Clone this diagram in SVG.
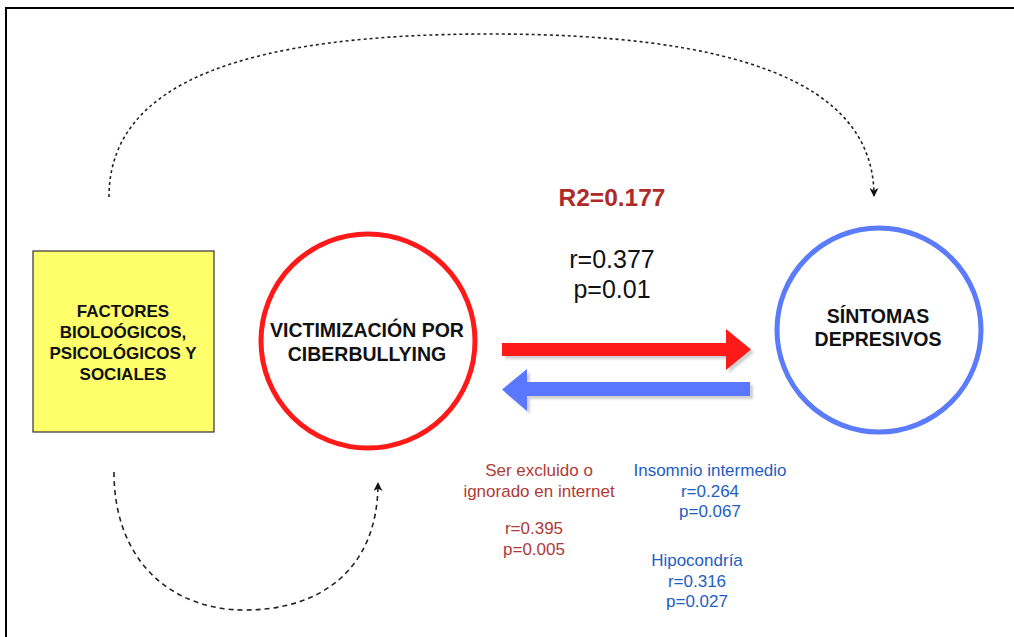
<svg xmlns="http://www.w3.org/2000/svg" width="1014" height="637" viewBox="0 0 1014 637">
  <defs>
    <style>
      .bold { font-family: "Liberation Sans", Arial, sans-serif; font-weight: bold; fill: #111; text-anchor: middle; }
      .reg { font-family: "Liberation Sans", Arial, sans-serif; text-anchor: middle; }
      .red { fill: #b03a36; font-size: 17px; }
      .blue { fill: #1f5ec2; font-size: 17px; }
      .dash { fill: none; stroke: #222; stroke-width: 1.6; }
      .shadow { fill: #999; opacity: 0.45; }
    </style>
    <marker id="ah" viewBox="0 0 10 10" refX="9" refY="5" markerWidth="9" markerHeight="9" markerUnits="userSpaceOnUse" orient="auto">
      <path d="M0,0 L10,5 L0,10 L3,5 Z" fill="#111"/>
    </marker>
    <filter id="sh" x="-10%" y="-30%" width="120%" height="160%">
      <feGaussianBlur stdDeviation="1.2"/>
    </filter>
  </defs>
  <rect x="0" y="0" width="1014" height="637" fill="#fff"/>
  <rect x="6" y="8" width="1030" height="650" fill="none" stroke="#000" stroke-width="2"/>

  <g id="connectors">
    <path class="dash" stroke-dasharray="3,3" d="M109,197 C109,80 250,34 490,34 C730,34 874,80 874,196" marker-end="url(#ah)"/>
    <path class="dash" stroke-dasharray="5,4" d="M114,472 C114,560 170,610 245,610 C320,610 378,570 378,483" marker-end="url(#ah)"/>
    <g id="arrow-red">
      <polygon class="shadow" filter="url(#sh)" transform="translate(3,3)" points="502,343 726,343 726,329 751,349.5 726,370 726,356 502,356"/>
      <polygon points="502,343 726,343 726,329 751,349.5 726,370 726,356 502,356" fill="#ff1a1a"/>
    </g>
    <g id="arrow-blue">
      <polygon class="shadow" filter="url(#sh)" transform="translate(3,3)" points="750,382 527,382 527,369 502,389.5 527,411 527,396 750,396"/>
      <polygon points="750,382 527,382 527,369 502,389.5 527,411 527,396 750,396" fill="#5a78ff"/>
    </g>
  </g>

  <g id="factores">
    <rect x="33" y="251" width="181" height="181" fill="#ffff6b" stroke="#333" stroke-width="1.2"/>
    <text class="bold" font-size="17" x="123" y="317">FACTORES</text>
    <text class="bold" font-size="17" x="123" y="338">BIOLOÓGICOS,</text>
    <text class="bold" font-size="17" x="123" y="359">PSICOLÓGICOS Y</text>
    <text class="bold" font-size="17" x="123" y="380">SOCIALES</text>
  </g>

  <g id="victimizacion">
    <circle cx="368" cy="341" r="107" fill="#fff" stroke="#ff1a1a" stroke-width="5"/>
    <text class="bold" font-size="19.5" x="367" y="337">VICTIMIZACIÓN POR</text>
    <text class="bold" font-size="19.5" x="367" y="361">CIBERBULLYING</text>
  </g>

  <g id="sintomas">
    <circle cx="879" cy="330" r="102" fill="#fff" stroke="#5b7cfa" stroke-width="5"/>
    <text class="bold" font-size="19.5" x="878" y="323">SÍNTOMAS</text>
    <text class="bold" font-size="19.5" x="878" y="346">DEPRESIVOS</text>
  </g>

  <g id="stats">
    <text class="reg" font-weight="bold" font-size="24.5" fill="#b02a2a" x="612" y="206">R2=0.177</text>
    <text class="reg" font-size="25" fill="#111" x="612" y="268">r=0.377</text>
    <text class="reg" font-size="25" fill="#111" x="612" y="298">p=0.01</text>
  </g>

  <g id="label-red">
    <text class="reg red" x="539" y="476">Ser excluido o</text>
    <text class="reg red" x="539" y="497">ignorado en internet</text>
    <text class="reg red" x="534" y="534">r=0.395</text>
    <text class="reg red" x="534" y="555">p=0.005</text>
  </g>

  <g id="label-blue">
    <text class="reg blue" x="710" y="476">Insomnio intermedio</text>
    <text class="reg blue" x="710" y="497">r=0.264</text>
    <text class="reg blue" x="710" y="517">p=0.067</text>
    <text class="reg blue" x="697" y="566">Hipocondría</text>
    <text class="reg blue" x="697" y="587">r=0.316</text>
    <text class="reg blue" x="697" y="607">p=0.027</text>
  </g>
</svg>
